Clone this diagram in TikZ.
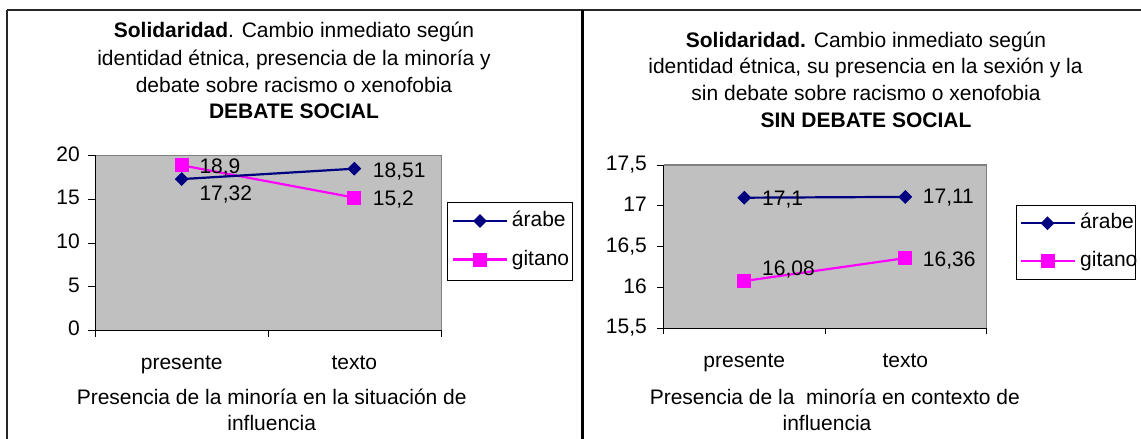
\documentclass[tikz,border=0pt]{standalone}
\usepackage{fontspec}
\setmainfont{Liberation Sans}
\usetikzlibrary{shapes.geometric}
\definecolor{plotgray}{HTML}{C0C0C0}
\definecolor{navyc}{HTML}{000080}
\definecolor{magc}{HTML}{FF00FF}
\tikzset{
  txt/.style={inner sep=0pt, font=\fontsize{21}{26.7}\selectfont, text height=15pt, text depth=4pt},
  diam/.style={diamond, aspect=1, fill=navyc, minimum width=14pt, minimum height=14pt, inner sep=0pt},
  sq/.style={rectangle, fill=magc, minimum size=14pt, inner sep=0pt},
  navyline/.style={navyc, line width=2.2pt},
  magline/.style={magc, line width=2.2pt},
  axisline/.style={black, line width=1.2pt},
  tickline/.style={black, line width=1pt},
  legbox/.style={draw=black, line width=1pt, fill=white},
  framel/.style={black!85, line width=1.6pt}
}
\begin{document}
\begin{tikzpicture}[x=1pt,y=-1pt]
\useasboundingbox (0,0) rectangle (1141,439);
\fill[white] (0,0) rectangle (1141,439);
% frames
\coordinate (ftl) at (7,10);
\coordinate (ftr) at (1141,10);
\coordinate (fbl) at (7,439);
\coordinate (fmt) at (582,10);
\coordinate (fmb) at (582,439);
\draw[framel] (ftl) -- (ftr);
\draw[framel] (ftl) -- (fbl);
\draw[black, line width=3pt] (fmt) -- (fmb);

% ================= LEFT CHART =================
\node[txt] (lt1) at (294,32.3) {\textbf{Solidaridad}. Cambio inmediato según};
\node[txt] (lt2) at (294,60) {identidad étnica, presencia de la minoría y};
\node[txt] (lt3) at (294,86.7) {debate sobre racismo o xenofobia};
\node[txt] (lt4) at (294,113.3) {\textbf{DEBATE SOCIAL}};
% plot area
\fill[plotgray] (95.7,155.7) rectangle (441.7,330.3);
\draw[gray, line width=1.2pt] (95.7,155.7) -- (441.7,155.7) -- (441.7,330.3);
\coordinate (lo) at (95.7,330.3);
\coordinate (ltop) at (95.7,155.7);
\coordinate (lright) at (441.7,330.3);
\draw[axisline] (ltop) -- (lo) -- (lright);
% y ticks
\foreach \v/\yy in {20/155.7,15/199.3,10/243,5/286.7,0/330.3}{
  \draw[tickline] (88,\yy) -- (95.7,\yy);
  \node[txt, anchor=east] at (80,\yy) {\v};
}
% x ticks
\foreach \xx in {95.7,268.7,441.7}{
  \draw[tickline] (\xx,330.3) -- (\xx,336.7);
}
\node[txt] (lc1) at (181.7,364) {presente};
\node[txt] (lc2) at (354.3,364) {texto};
\node[txt] (lx1) at (271.7,399) {Presencia de la minoría en la situación de};
\node[txt] (lx2) at (271.7,425) {influencia};
% data
\coordinate (la1) at (181.7,179.1);
\coordinate (la2) at (354.3,168.7);
\coordinate (lg1) at (181.7,165.3);
\coordinate (lg2) at (354.3,197.6);
\draw[magline] (lg1) -- (lg2);
\draw[navyline] (la1) -- (la2);
\node[diam] (mla1) at (la1) {};
\node[diam] (mla2) at (la2) {};
\node[sq] (mlg1) at (lg1) {};
\node[sq] (mlg2) at (lg2) {};
\node[txt, anchor=west] (dl1) at (199.3,168.3) {18,9};
\node[txt, anchor=west] (dl2) at (199.3,195) {17,32};
\node[txt, anchor=west] (dl3) at (372.7,171.7) {18,51};
\node[txt, anchor=west] (dl4) at (372.7,200) {15,2};
% legend
\draw[legbox] (447.7,202.3) rectangle (572.7,280);
\coordinate (lla) at (452.7,221);
\coordinate (llb) at (507.3,221);
\coordinate (lma) at (452.7,259.5);
\coordinate (lmb) at (507.3,259.5);
\draw[navyline] (lla) -- (llb);
\draw[magline] (lma) -- (lmb);
\node[diam] (llegd) at (480,221) {};
\node[sq] (llegs) at (480,259.5) {};
\node[txt, anchor=west] (llt1) at (511.7,221) {árabe};
\node[txt, anchor=west] (llt2) at (511.7,259.5) {gitano};

% ================= RIGHT CHART =================
\node[txt] (rt1) at (866,41.7) {\textbf{Solidaridad.} Cambio inmediato según};
\node[txt] (rt2) at (865.5,68.3) {identidad étnica, su presencia en la sexión y la};
\node[txt] (rt3) at (866,95) {sin debate sobre racismo o xenofobia};
\node[txt] (rt4) at (866,121.7) {\textbf{SIN DEBATE SOCIAL}};
% plot area
\fill[plotgray] (663.7,165) rectangle (986.3,328.3);
\draw[gray, line width=1.2pt] (663.7,165) -- (986.3,165) -- (986.3,328.3);
\coordinate (ro) at (663.7,328.3);
\coordinate (rtop) at (663.7,165);
\coordinate (rright) at (986.3,328.3);
\draw[axisline] (rtop) -- (ro) -- (rright);
\foreach \v/\yy in {17{,}5/165,17/205.8,16{,}5/246.7,16/287.5,15{,}5/328.3}{
  \draw[tickline] (657,\yy) -- (663.7,\yy);
  \node[txt, anchor=east] at (647,\yy) {\v};
}
\foreach \xx in {663.7,825,986.3}{
  \draw[tickline] (\xx,328.3) -- (\xx,334);
}
\node[txt] (rc1) at (744.3,361.7) {presente};
\node[txt] (rc2) at (905.3,361.7) {texto};
\node[txt] (rx1) at (834.8,399.3) {Presencia de la\ \ minoría en contexto de};
\node[txt] (rx2) at (827,425) {influencia};
% data
\coordinate (ra1) at (744.3,197.7);
\coordinate (ra2) at (905.3,196.9);
\coordinate (rg1) at (744.3,281);
\coordinate (rg2) at (905.3,258.1);
\draw[navyline] (ra1) -- (ra2);
\draw[magline] (rg1) -- (rg2);
\node[diam] (mra1) at (ra1) {};
\node[diam] (mra2) at (ra2) {};
\node[sq] (mrg1) at (rg1) {};
\node[sq] (mrg2) at (rg2) {};
\node[txt, anchor=west] (dr1) at (762,200) {17,1};
\node[txt, anchor=west] (dr2) at (922.7,198.3) {17,11};
\node[txt, anchor=west] (dr3) at (762,270) {16,08};
\node[txt, anchor=west] (dr4) at (922.7,260.7) {16,36};
% legend
\draw[legbox] (1016,205) rectangle (1135.7,279.3);
\coordinate (rla) at (1021,223.3);
\coordinate (rlb) at (1075,223.3);
\coordinate (rma) at (1021,260.7);
\coordinate (rmb) at (1075,260.7);
\draw[navyline] (rla) -- (rlb);
\draw[magline] (rma) -- (rmb);
\node[diam] (rlegd) at (1047.5,223.3) {};
\node[sq] (rlegs) at (1047.5,260.7) {};
\node[txt, anchor=west] (rlt1) at (1080,223.3) {árabe};
\node[txt, anchor=west] (rlt2) at (1080,260.7) {gitano};
\end{tikzpicture}
\end{document}
